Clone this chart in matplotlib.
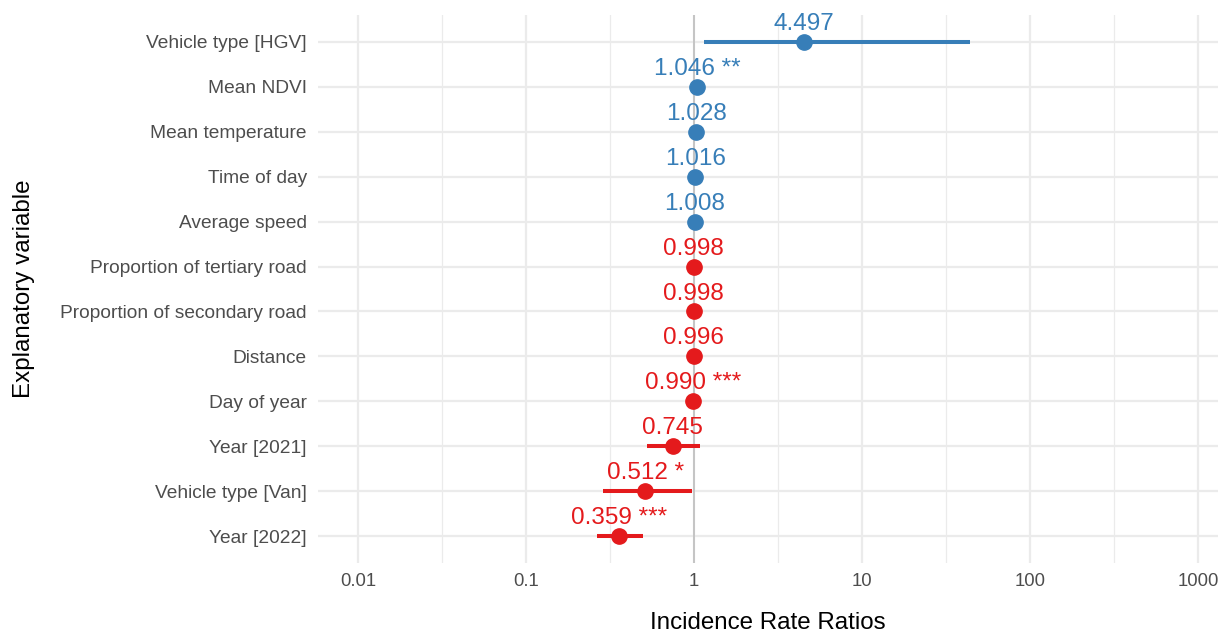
import numpy as np
import matplotlib.pyplot as plt
from matplotlib.ticker import FixedLocator, NullFormatter

plt.rcParams['font.family'] = ['Liberation Sans', 'DejaVu Sans']

# Модель: оценки, доверительные интервалы, значимость
variables = ["Vehicle type [HGV]", "Mean NDVI", "Mean temperature", "Time of day",
             "Average speed", "Proportion of tertiary road", "Proportion of secondary road",
             "Distance", "Day of year", "Year [2021]", "Vehicle type [Van]", "Year [2022]"]
irr = [4.497, 1.046, 1.028, 1.016, 1.008, 0.998, 0.998, 0.996, 0.990, 0.745, 0.512, 0.359]
ci_low = [1.15, 1.015, 1.012, 1.008, 1.003, 0.996, 0.996, 0.993, 0.985, 0.525, 0.287, 0.265]
ci_high = [43.9, 1.078, 1.045, 1.025, 1.013, 1.001, 1.001, 0.999, 0.995, 1.085, 0.973, 0.497]
stars = ["", "**", "", "", "", "", "", "", "***", "", "*", "***"]

blue = "#377EB8"
red = "#E41A1C"

fig = plt.figure(figsize=(12.2, 6.33), dpi=100)
ax = fig.add_axes([318 / 1220, 1 - 563 / 633, 900 / 1220, 548 / 633])

n = len(variables)
ypos = np.arange(n)[::-1]

for y, v, lo, hi, s in zip(ypos, irr, ci_low, ci_high, stars):
    col = blue if v > 1 else red
    ax.plot([lo, hi], [y, y], color=col, lw=2.9, solid_capstyle='butt', zorder=3)
    ax.plot(v, y, 'o', color=col, ms=11, zorder=4)
    label = f"{v:.3f}" + (f" {s}" if s else "")
    ax.annotate(label, (v, y), xytext=(0, 5), textcoords='offset points',
                ha='center', va='bottom', color=col, fontsize=17.5, zorder=5)

ax.axvline(1, color='#BEBEBE', lw=1.2, zorder=2)

ax.set_xscale('log')
ax.set_xlim(10 ** (-2 - 40 / 168), 10 ** (3 + 20 / 168))
ax.set_ylim(-0.6, n - 0.4)
major = [0.01, 0.1, 1, 10, 100, 1000]
ax.xaxis.set_major_locator(FixedLocator(major))
ax.xaxis.set_minor_locator(FixedLocator([10 ** (k + 0.5) for k in range(-3, 3)]))
ax.xaxis.set_minor_formatter(NullFormatter())
ax.set_xticklabels(["0.01", "0.1", "1", "10", "100", "1000"])
ax.set_yticks(ypos)
ax.set_yticklabels(variables)

ax.grid(True, which='major', color='#EBEBEB', lw=1.6, zorder=0)
ax.grid(True, which='minor', axis='x', color='#EBEBEB', lw=0.9, zorder=0)
ax.set_axisbelow(True)
for sp in ax.spines.values():
    sp.set_visible(False)
ax.tick_params(which='both', length=0)
ax.tick_params(axis='x', labelsize=13.3, labelcolor='#4D4D4D', pad=7)
ax.tick_params(axis='y', labelsize=13.8, labelcolor='#4D4D4D', pad=8)

ax.set_xlabel("Incidence Rate Ratios", fontsize=17.4, labelpad=16)
ax.set_ylabel("Explanatory variable", fontsize=17.4, labelpad=18)

fig.savefig("out.png", dpi=100)
